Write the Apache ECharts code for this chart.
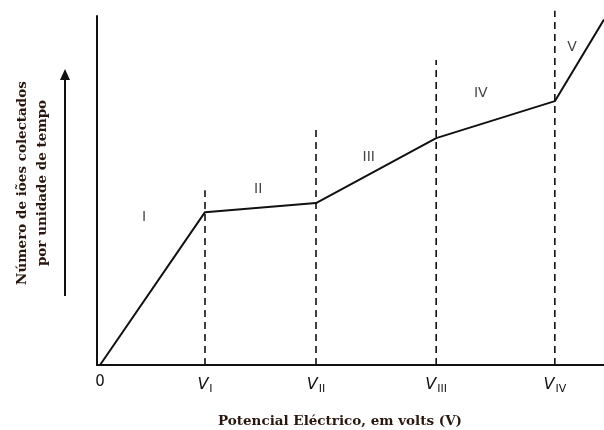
<!DOCTYPE html>
<html><head><meta charset="utf-8">
<script src="https://cdn.jsdelivr.net/npm/echarts@6/dist/echarts.min.js"></script>
<style>html,body{margin:0;padding:0;background:#fff}#c{width:604px;height:430px}</style>
</head><body><div id="c"></div>
<script>
// Curve (potential vs collected ions), arbitrary units
const curveX = [0.6, 21.3, 43.2, 66.9, 90.3, 100];
const curveY = [0, 43.8, 46.4, 65.0, 75.6, 99];
// Threshold voltages (dashed lines) and their top heights
const thresholdX = [21.3, 43.2, 66.9, 90.3];
const thresholdTop = [50.1, 68.8, 87.4, 101.5];
// Tick labels
const tickValues = [0.6, 21.3, 43.2, 66.9, 90.3];
const tickLabels = ['0', '{v|V}{s|I}', '{v|V}{s|II}', '{v|V}{s|III}', '{v|V}{s|IV}'];
// Region labels
const regionNames = ['I', 'II', 'III', 'IV', 'V'];
const regionX = [9.3, 31.8, 53.6, 75.7, 93.7];
const regionY = [42.4, 50.4, 59.6, 77.9, 91.1];

const chart = echarts.init(document.getElementById('c'));
const series = [{
  type: 'line', data: curveX.map((x, i) => [x, curveY[i]]), symbol: 'none',
  lineStyle: {color: '#111', width: 2}, clip: false, z: 5
}];
thresholdX.forEach((x, i) => {
  series.push({type: 'line', data: [[x, 0], [x, thresholdTop[i]]], symbol: 'none', clip: false,
    lineStyle: {color: '#111', width: 1.6, type: [7, 5]}});
});
series.push({type: 'scatter', symbolSize: 0, data: regionX.map((x, i) => [x, regionY[i], regionNames[i]]),
  label: {show: true, position: 'inside', formatter: p => p.data[2], color: '#111', fontFamily: 'DejaVu Sans', fontSize: 14, fontWeight: 'normal'}});

const titleFont = 'bold 13.5px "DejaVu Serif", "Liberation Serif", serif';
chart.setOption({
  animation: false,
  grid: {left: 97, right: 0, top: 16, bottom: 65},
  xAxis: {type: 'value', min: 0, max: 100, splitLine: {show: false},
    axisLine: {lineStyle: {color: '#111', width: 2}}, axisTick: {show: false},
    axisLabel: {customValues: tickValues, formatter: (v) => tickLabels[tickValues.indexOf(v)] ?? '',
      margin: 10, color: '#111', fontFamily: 'DejaVu Sans', fontSize: 15,
      rich: {v: {fontSize: 16, fontStyle: 'italic', color: '#111', fontFamily: 'DejaVu Sans'},
             s: {fontSize: 11, color: '#111', fontFamily: 'DejaVu Sans', padding: [9, 0, 0, 1]}}}},
  yAxis: {type: 'value', min: 0, max: 100, splitLine: {show: false}, axisLabel: {show: false},
    axisTick: {show: false}, axisLine: {show: true, lineStyle: {color: '#111', width: 2}}},
  graphic: [
    {type: 'text', x: 340, y: 421, style: {text: 'Potencial Eléctrico, em volts (V)', fill: '#2a1810',
      font: titleFont, align: 'center', verticalAlign: 'middle'}},
    {type: 'text', x: 22, y: 183, rotation: Math.PI / 2, style: {text: 'Número de iões colectados', fill: '#2a1810',
      font: titleFont, align: 'center', verticalAlign: 'middle'}},
    {type: 'text', x: 42, y: 183, rotation: Math.PI / 2, style: {text: 'por unidade de tempo', fill: '#2a1810',
      font: titleFont, align: 'center', verticalAlign: 'middle'}},
    {type: 'line', shape: {x1: 65, y1: 296, x2: 65, y2: 78}, style: {stroke: '#111', lineWidth: 2}},
    {type: 'polygon', shape: {points: [[65, 69], [60, 80], [70, 80]]}, style: {fill: '#111'}}
  ],
  series: series
});
</script></body></html>
